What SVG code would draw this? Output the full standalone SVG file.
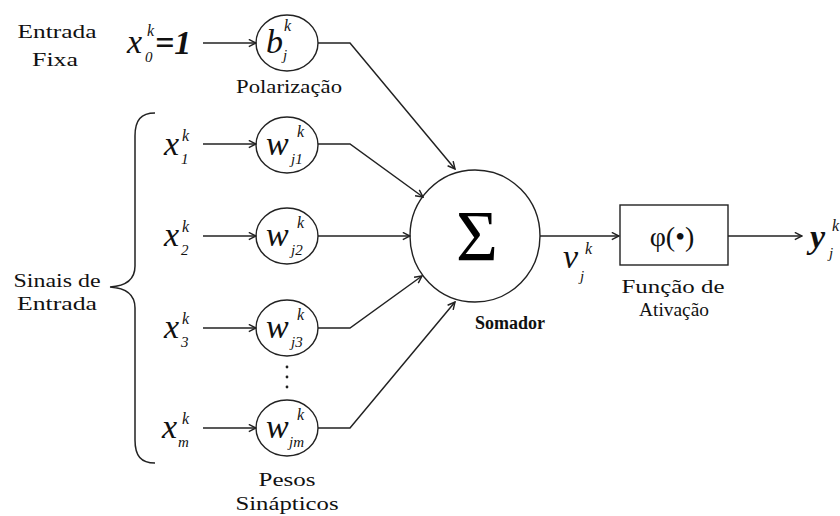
<svg xmlns="http://www.w3.org/2000/svg" width="840" height="516" viewBox="0 0 840 516">
<defs>
<marker id="arr" viewBox="0 0 10 10" refX="9" refY="5" markerWidth="9" markerHeight="9" markerUnits="userSpaceOnUse" orient="auto">
<path d="M1,1 L9,5 L1,9" fill="none" stroke="#222" stroke-width="1.6"/>
</marker>
</defs>
<style>
.lbl{font-family:"Liberation Serif",serif;font-size:18px;fill:#111;text-anchor:middle}
.m{font-family:"Liberation Serif",serif;font-style:italic;fill:#111}
.big{font-size:34px}
.sup{font-size:16px}
.sub{font-size:15px}
.node{fill:#fff;stroke:#222;stroke-width:1.4}
.con{fill:none;stroke:#222;stroke-width:1.5}
</style>
<rect width="840" height="516" fill="#fff"/>

<g id="labels">
<text font-family="'Liberation Serif', serif" class="lbl" x="57" y="38" textLength="79" lengthAdjust="spacingAndGlyphs">Entrada</text>
<text font-family="'Liberation Serif', serif" class="lbl" x="55" y="66" textLength="46" lengthAdjust="spacingAndGlyphs">Fixa</text>
<text font-family="'Liberation Serif', serif" class="lbl" x="57" y="287" textLength="87" lengthAdjust="spacingAndGlyphs">Sinais de</text>
<text font-family="'Liberation Serif', serif" class="lbl" x="57" y="310" textLength="80" lengthAdjust="spacingAndGlyphs">Entrada</text>
<path d="M155,113 C141,113 135,120 135,136 L135,266 C135,280 126,286 110,287 C126,288 135,294 135,308 L135,440 C135,456 141,463 155,463" fill="none" stroke="#222" stroke-width="1.5"/>
</g>

<g id="inputs">
<text font-family="'Liberation Serif', serif" class="m big" x="127" y="53">x</text><text font-family="'Liberation Serif', serif" class="m sup" x="147" y="36">k</text><text font-family="'Liberation Serif', serif" class="m sub" x="145" y="62">0</text><text font-family="'Liberation Serif', serif" class="m big" x="155" y="54" font-weight="bold">=1</text>
<text font-family="'Liberation Serif', serif" class="m big" x="164" y="155">x</text><text font-family="'Liberation Serif', serif" class="m sup" x="182" y="141">k</text><text font-family="'Liberation Serif', serif" class="m sub" x="181" y="164">1</text>
<text font-family="'Liberation Serif', serif" class="m big" x="164" y="246">x</text><text font-family="'Liberation Serif', serif" class="m sup" x="182" y="232">k</text><text font-family="'Liberation Serif', serif" class="m sub" x="181" y="255">2</text>
<text font-family="'Liberation Serif', serif" class="m big" x="164" y="338">x</text><text font-family="'Liberation Serif', serif" class="m sup" x="182" y="324">k</text><text font-family="'Liberation Serif', serif" class="m sub" x="181" y="347">3</text>
<text font-family="'Liberation Serif', serif" class="m big" x="162" y="438">x</text><text font-family="'Liberation Serif', serif" class="m sup" x="182" y="424">k</text><text font-family="'Liberation Serif', serif" class="m sub" x="178" y="447">m</text>
</g>

<g id="bias">
<ellipse class="node" cx="287" cy="43" rx="31" ry="28"/>
<text font-family="'Liberation Serif', serif" class="m big" x="266" y="53">b</text><text font-family="'Liberation Serif', serif" class="m sup" x="284" y="31">k</text><text font-family="'Liberation Serif', serif" class="m sub" x="283" y="60">j</text>
<text font-family="'Liberation Serif', serif" class="lbl" x="289" y="93" textLength="106" lengthAdjust="spacingAndGlyphs">Polarização</text>
</g>
<g id="w1">
<ellipse class="node" cx="287" cy="145" rx="31" ry="28"/>
<text font-family="'Liberation Serif', serif" class="m big" x="266" y="155">w</text><text font-family="'Liberation Serif', serif" class="m sup" x="297" y="137">k</text><text font-family="'Liberation Serif', serif" class="m sub" x="291" y="164">j1</text>
</g>
<g id="w2">
<ellipse class="node" cx="287" cy="236" rx="31" ry="28"/>
<text font-family="'Liberation Serif', serif" class="m big" x="266" y="246">w</text><text font-family="'Liberation Serif', serif" class="m sup" x="297" y="228">k</text><text font-family="'Liberation Serif', serif" class="m sub" x="291" y="255">j2</text>
</g>
<g id="w3">
<ellipse class="node" cx="287" cy="328" rx="31" ry="28"/>
<text font-family="'Liberation Serif', serif" class="m big" x="266" y="338">w</text><text font-family="'Liberation Serif', serif" class="m sup" x="297" y="320">k</text><text font-family="'Liberation Serif', serif" class="m sub" x="291" y="347">j3</text>
</g>
<g id="dots" fill="#222">
<circle cx="287" cy="367" r="1.4"/><circle cx="287" cy="377" r="1.4"/><circle cx="287" cy="387" r="1.4"/>
</g>
<g id="wm">
<ellipse class="node" cx="287" cy="428" rx="31" ry="28"/>
<text font-family="'Liberation Serif', serif" class="m big" x="266" y="438">w</text><text font-family="'Liberation Serif', serif" class="m sup" x="297" y="420">k</text><text font-family="'Liberation Serif', serif" class="m sub" x="289" y="447">jm</text>
<text font-family="'Liberation Serif', serif" class="lbl" x="287" y="486" textLength="57" lengthAdjust="spacingAndGlyphs">Pesos</text>
<text font-family="'Liberation Serif', serif" class="lbl" x="287" y="510" textLength="103" lengthAdjust="spacingAndGlyphs">Sinápticos</text>
</g>

<g id="somador">
<ellipse class="node" cx="475" cy="236" rx="65" ry="66"/>
<text font-family="'Liberation Serif', serif" x="477" y="260" font-size="72" text-anchor="middle" fill="#000">Σ</text>
<text font-family="'Liberation Serif', serif" class="lbl" x="510" y="329" font-weight="bold" textLength="70" lengthAdjust="spacingAndGlyphs">Somador</text>
</g>

<g id="ativacao">
<rect x="620" y="205" width="108" height="60" fill="#fff" stroke="#222" stroke-width="1.4"/>
<text font-family="'Liberation Serif', serif" x="672" y="246" font-size="28" text-anchor="middle" fill="#111">φ(•)</text>
<text font-family="'Liberation Serif', serif" class="lbl" x="673" y="293" textLength="103" lengthAdjust="spacingAndGlyphs">Função de</text>
<text font-family="'Liberation Serif', serif" class="lbl" x="674" y="316" textLength="70" lengthAdjust="spacingAndGlyphs">Ativação</text>
</g>

<g id="v">
<text font-family="'Liberation Serif', serif" class="m big" x="563" y="268">v</text><text font-family="'Liberation Serif', serif" class="m sup" x="585" y="254">k</text><text font-family="'Liberation Serif', serif" class="m sub" x="580" y="281">j</text>
</g>
<g id="y">
<text font-family="'Liberation Serif', serif" class="m big" x="810" y="248" font-weight="bold">y</text><text font-family="'Liberation Serif', serif" class="m sup" x="832" y="231">k</text><text font-family="'Liberation Serif', serif" class="m sub" x="829" y="258">j</text>
</g>

<g id="connectors">
<line class="con" x1="203" y1="43" x2="256" y2="43" marker-end="url(#arr)"/>
<line class="con" x1="203" y1="144" x2="256" y2="144" marker-end="url(#arr)"/>
<line class="con" x1="203" y1="236" x2="256" y2="236" marker-end="url(#arr)"/>
<line class="con" x1="203" y1="328" x2="256" y2="328" marker-end="url(#arr)"/>
<line class="con" x1="203" y1="428" x2="256" y2="428" marker-end="url(#arr)"/>
<polyline class="con" points="318,43 350,43 455,169" marker-end="url(#arr)"/>
<polyline class="con" points="318,144 350,144 423,197" marker-end="url(#arr)"/>
<line class="con" x1="318" y1="236" x2="410" y2="236" marker-end="url(#arr)"/>
<polyline class="con" points="318,328 350,328 422,276" marker-end="url(#arr)"/>
<polyline class="con" points="318,428 350,428 455,302" marker-end="url(#arr)"/>
<line class="con" x1="540" y1="236" x2="619" y2="236" stroke="#555" marker-end="url(#arr)"/>
<line class="con" x1="728" y1="236" x2="802" y2="236" stroke="#555" marker-end="url(#arr)"/>
</g>
</svg>
